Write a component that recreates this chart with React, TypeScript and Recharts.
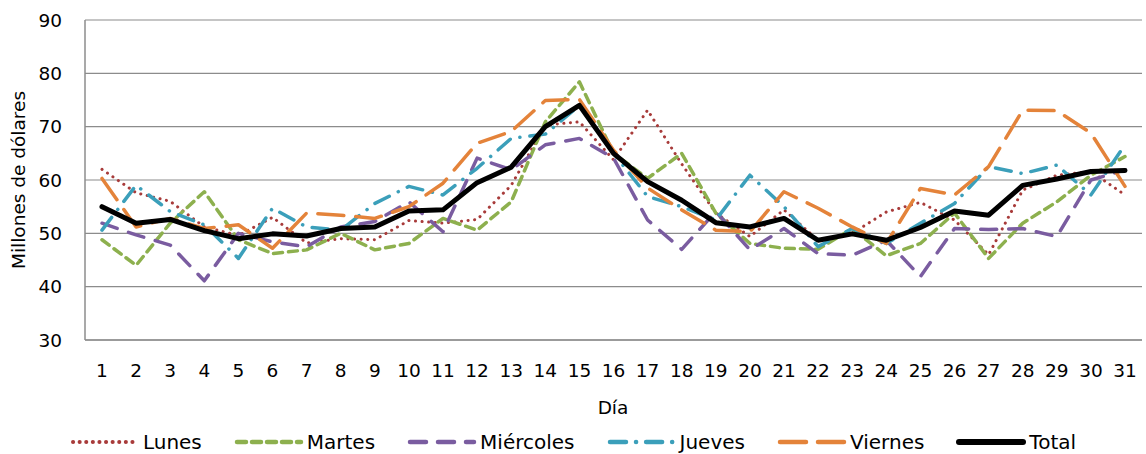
import React from 'react';
import { LineChart, Line, XAxis, YAxis, CartesianGrid, Legend } from 'recharts';

const dias = ['1','2','3','4','5','6','7','8','9','10','11','12','13','14','15','16','17','18','19','20','21','22','23','24','25','26','27','28','29','30','31'];
const lunes = [62, 57.6, 56, 51.2, 49.6, 53, 48.2, 49, 48.8, 52.4, 51.9, 52.6, 59, 70.3, 70.9, 63.8, 73.1, 63, 53.8, 49.4, 54.4, 48.7, 50, 54, 55.8, 52.5, 46, 58.1, 60.9, 61.6, 57.2];
const martes = [48.8, 44, 51.9, 57.8, 48.8, 46.2, 46.9, 50, 46.9, 48.1, 52.8, 50.6, 55.9, 70.9, 78.4, 65, 60.3, 65, 53.8, 48.1, 47.2, 47, 50.9, 45.8, 48.1, 53.8, 45.3, 51.9, 55.9, 60.9, 64.4];
const miercoles = [51.9, 49.7, 47.8, 41.1, 50, 48.4, 47.5, 51.2, 52.2, 55.9, 50.3, 64.1, 61.9, 66.6, 67.8, 64.1, 52.5, 47, 54.1, 46.9, 50.9, 46.2, 45.9, 48.7, 41.9, 50.9, 50.7, 50.9, 49.4, 60, 61.9];
const jueves = [50.6, 59, 54.1, 51.6, 45.3, 54.7, 51.2, 50.6, 55.6, 58.8, 57.2, 62.2, 67.8, 68.6, 74, 65, 56.9, 55, 52.5, 60.9, 55, 47.5, 50.9, 48.1, 51.9, 55.6, 62.5, 61.2, 62.8, 57.2, 66.6];
const viernes = [60.3, 51.2, 52.8, 50.9, 51.6, 47.2, 53.8, 53.4, 52.8, 55, 59.4, 66.9, 69.1, 74.9, 75.1, 65.6, 58.5, 54.4, 50.6, 50.3, 57.8, 54.7, 51.2, 48.1, 58.4, 57.2, 62.5, 73.1, 73, 68.8, 58.8];
const total = [55, 51.9, 52.6, 50.5, 49, 49.9, 49.5, 50.9, 51.2, 54.2, 54.4, 59.5, 62.4, 70, 74, 65, 59.7, 56.2, 52, 51.2, 52.8, 48.7, 49.9, 48.7, 51.1, 54.2, 53.4, 59, 60.2, 61.6, 61.8];
const yTicks = [30, 40, 50, 60, 70, 80, 90];

const data = dias.map((d, i) => ({
  dia: d,
  Lunes: lunes[i],
  Martes: martes[i],
  Miercoles: miercoles[i],
  Jueves: jueves[i],
  Viernes: viernes[i],
  Total: total[i],
}));

const FONT = '"DejaVu Sans", "Open Sans", sans-serif';
const FS = 18.5;

const seriesStyles = [
  { key: 'Lunes', name: 'Lunes', color: '#A83B3A', width: 3, dash: '0.1 6.5', cap: 'round' as const },
  { key: 'Martes', name: 'Martes', color: '#8DB04E', width: 3.5, dash: '9 6', cap: 'round' as const },
  { key: 'Miercoles', name: 'Miércoles', color: '#7A5CA0', width: 3.5, dash: '16 12', cap: 'round' as const },
  { key: 'Jueves', name: 'Jueves', color: '#3B9FBA', width: 3.5, dash: '16 10 0.1 10', cap: 'round' as const },
  { key: 'Viernes', name: 'Viernes', color: '#E4833A', width: 3.5, dash: '26 12', cap: 'round' as const },
  { key: 'Total', name: 'Total', color: '#000000', width: 5, dash: undefined, cap: 'round' as const },
];

const CustomLegend = () => (
  <div style={{ display: 'flex', justifyContent: 'center', alignItems: 'center', height: 26, fontFamily: FONT, fontSize: 20, color: '#000', marginLeft: 0 }}>
    {seriesStyles.map((s, i) => (
      <div key={s.key} style={{ display: 'flex', alignItems: 'center', marginRight: i === seriesStyles.length - 1 ? 0 : 32 }}>
        <svg width={70} height={12}>
          <line x1={3} y1={6} x2={67} y2={6} stroke={s.color} strokeWidth={s.width + 1} strokeDasharray={s.dash} strokeLinecap={s.cap} />
        </svg>
        <span style={{ marginLeft: 3, lineHeight: '26px' }}>{s.name}</span>
      </div>
    ))}
  </div>
);

export default function App() {
  return (
    <div style={{ position: 'absolute', left: 0, top: 0, width: 1146, height: 454, background: '#fff' }}>
      <LineChart width={1146} height={454} data={data} margin={{ top: 20, right: 4, left: 0, bottom: 0 }}>
        <CartesianGrid vertical={false} stroke="#8C8C8C" strokeWidth={1.2} />
        <XAxis
          dataKey="dia"
          height={80}
          tickLine={false}
          tickMargin={18}
          padding={{ left: 17, right: 17 }}
          axisLine={{ stroke: '#8C8C8C', strokeWidth: 1.5 }}
          tick={{ fill: '#000', fontSize: FS, fontFamily: FONT }}
          interval={0}
          label={({ viewBox }: any) => (
            <text x={613} y={414} textAnchor="middle" fill="#000" fontSize={FS} fontFamily={FONT}>Día</text>
          )}
        />
        <YAxis
          width={85}
          domain={[30, 90]}
          ticks={yTicks}
          tickLine={false}
          tickMargin={17}
          axisLine={{ stroke: '#8C8C8C', strokeWidth: 1.5 }}
          tick={{ fill: '#000', fontSize: FS, fontFamily: FONT }}
          label={({ viewBox }: any) => {
            const cx = 18;
            const cy = viewBox.y + viewBox.height / 2;
            return (
              <text x={cx} y={cy} textAnchor="middle" dominantBaseline="central" transform={`rotate(-90 ${cx} ${cy})`} fill="#000" fontSize={FS} fontFamily={FONT}>
                Millones de dólares
              </text>
            );
          }}
        />
        <Legend verticalAlign="bottom" height={34} wrapperStyle={{ top: 429, left: 0, width: 1146 }} content={() => <CustomLegend />} />
        {seriesStyles.map((s) => (
          <Line
            key={s.key}
            dataKey={s.key}
            name={s.name}
            type="linear"
            stroke={s.color}
            strokeWidth={s.width}
            strokeDasharray={s.dash}
            strokeLinecap={s.cap}
            strokeLinejoin="round"
            dot={false}
            activeDot={false}
            isAnimationActive={false}
          />
        ))}
      </LineChart>
    </div>
  );
}
